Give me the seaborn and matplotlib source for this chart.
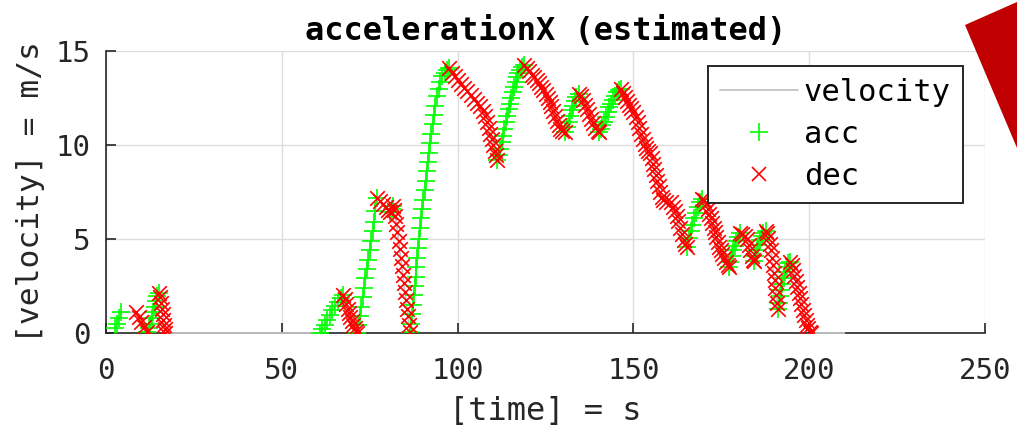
import numpy as np
import pandas as pd
import matplotlib
matplotlib.use("Agg")
import matplotlib.pyplot as plt
from matplotlib.lines import Line2D
from matplotlib.patches import Polygon
import seaborn as sns

# ---------------- data ----------------
time_s = [
    2.6, 3.1, 3.7, 4.4, 8.6, 9.3, 10.0, 10.8, 11.6,
    12.1, 12.6, 13.0, 13.4, 13.8, 14.2, 14.6, 15.0,
    15.4, 15.7, 15.9, 16.1, 16.3, 16.5, 16.7, 16.9,
    61.0, 61.5, 62.2, 62.9, 63.6, 64.4, 65.2, 66.0, 66.8, 67.5,
    67.9, 68.3, 68.7, 69.1, 69.5, 69.9, 70.3, 70.7, 71.1, 71.5,
    71.8, 72.2, 72.6, 73.0, 73.4, 73.8, 74.2, 74.6, 75.0, 75.4, 75.8, 76.2, 76.6, 77.2,
    77.9, 78.7, 79.5, 80.3, 80.9, 81.3, 81.7,
    82.0, 82.3, 82.6, 82.9, 83.2, 83.5, 83.8, 84.1, 84.4, 84.7, 85.0, 85.3, 85.6, 85.9, 86.2, 86.5,
    86.8, 87.05, 87.3, 87.55, 87.8, 88.05, 88.3, 88.55, 88.8, 89.1, 89.4, 89.7, 90.0, 90.3,
    90.6, 90.9, 91.2, 91.5, 91.8, 92.15, 92.5, 92.9, 93.3, 93.7, 94.1, 94.6, 95.1, 95.7,
    96.3, 96.9, 97.5,
    98.3, 99.2, 100.1, 101.0, 101.9, 102.8, 103.7, 104.6, 105.5, 106.4, 107.2, 107.9,
    108.5, 108.9, 109.3, 109.7, 110.1, 110.5, 110.9, 111.3,
    111.7, 112.1, 112.5, 112.9, 113.3, 113.7, 114.1, 114.5, 114.9, 115.3, 115.7, 116.1,
    116.5, 116.9, 117.3, 117.8, 118.3, 118.9,
    119.7, 120.4, 121.1, 121.8, 122.5, 123.2, 123.8, 124.4, 125.0, 125.6, 126.2, 126.7,
    127.2, 127.7, 128.2, 128.7, 129.2, 129.8, 130.5,
    131.2, 131.6, 132.0, 132.4, 132.8, 133.3, 133.8, 134.4,
    135.0, 135.6, 136.2, 136.8, 137.4, 138.0, 138.6, 139.2, 139.8, 140.2,
    140.7, 141.2, 141.7, 142.2, 142.7, 143.2, 143.7, 144.2, 144.7, 145.2, 145.8, 146.4,
    147.0, 147.6, 148.2, 148.8, 149.4, 150.0, 150.6, 151.2, 151.7, 152.2, 152.7, 153.2,
    153.7, 154.2, 154.7, 155.2, 155.6, 156.0, 156.4, 156.8, 157.2, 157.6, 158.0, 158.5,
    159.2, 160.8, 161.3, 161.8, 162.3, 162.8, 163.3, 163.8, 164.3, 164.8, 165.3,
    165.8, 166.3, 166.8, 167.3, 167.8, 168.3, 168.9, 169.6,
    170.2, 170.7, 171.2, 171.6, 172.0, 172.4, 172.8, 173.2, 173.6, 174.0, 174.4, 174.8,
    175.3, 175.8, 176.3, 176.8, 177.2,
    177.6, 178.0, 178.4, 178.8, 179.2, 179.7, 180.3,
    181.0, 181.7, 182.3, 182.8, 183.2, 183.6, 184.0, 184.3,
    184.7, 185.1, 185.5, 186.0, 186.5, 187.0, 187.6,
    188.0, 188.4, 188.8, 189.1, 189.4, 189.65, 189.9, 190.15, 190.4, 190.65, 190.9, 191.2,
    191.5, 191.8, 192.1, 192.4, 192.8, 193.2, 193.6, 194.1, 194.6,
    195.0, 195.4, 195.8, 196.2, 196.6, 197.0, 197.4, 197.8, 198.2, 198.6, 199.0, 199.4,
    199.8, 200.2, 200.5, 210.0,
]
velocity_ms = [
    0.25, 0.5, 0.8, 1.1, 1.1, 0.85, 0.6, 0.3, 0.05,
    0.25, 0.5, 0.8, 1.1, 1.4, 1.7, 1.95, 2.15,
    1.9, 1.6, 1.3, 1.0, 0.7, 0.45, 0.2, 0.0,
    0.0, 0.2, 0.45, 0.7, 0.95, 1.2, 1.45, 1.65, 1.85, 2.0,
    1.8, 1.55, 1.3, 1.05, 0.85, 0.65, 0.45, 0.25, 0.1, 0.0,
    0.4, 0.9, 1.4, 1.9, 2.4, 2.9, 3.4, 3.9, 4.4, 4.9, 5.4, 5.9, 6.5, 7.2,
    7.0, 6.85, 6.7, 6.55, 6.45, 6.6, 6.75,
    6.55, 6.2, 5.8, 5.35, 4.9, 4.45, 4.0, 3.55, 3.1, 2.65, 2.2, 1.75, 1.3, 0.9, 0.45, 0.05,
    0.5, 1.0, 1.5, 2.0, 2.5, 3.0, 3.5, 4.0, 4.5, 5.0, 5.6, 6.1, 6.6, 7.1,
    7.6, 8.1, 8.6, 9.1, 9.6, 10.1, 10.6, 11.1, 11.6, 12.1, 12.6, 13.0, 13.35, 13.65,
    13.85, 14.0, 14.1,
    13.85, 13.65, 13.45, 13.25, 13.05, 12.85, 12.65, 12.45, 12.25, 12.05, 11.8, 11.55,
    11.2, 10.9, 10.6, 10.3, 10.0, 9.7, 9.45, 9.2,
    9.45, 9.8, 10.15, 10.5, 10.85, 11.2, 11.55, 11.9, 12.2, 12.5, 12.8, 13.1,
    13.35, 13.6, 13.85, 14.0, 14.15, 14.25,
    14.1, 13.95, 13.75, 13.6, 13.45, 13.3, 13.1, 12.9, 12.7, 12.5, 12.3, 12.05,
    11.8, 11.55, 11.3, 11.05, 10.85, 10.75, 10.7,
    10.95, 11.25, 11.55, 11.85, 12.1, 12.35, 12.55, 12.7,
    12.6, 12.4, 12.15, 11.9, 11.65, 11.4, 11.15, 10.9, 10.72, 10.7,
    10.85, 11.05, 11.25, 11.5, 11.75, 12.0, 12.2, 12.4, 12.6, 12.8, 12.95, 13.0,
    12.75, 12.55, 12.35, 12.15, 11.95, 11.75, 11.5, 11.2, 10.9, 10.6, 10.3, 10.05,
    9.85, 9.7, 9.55, 9.3, 9.0, 8.7, 8.4, 8.1, 7.8, 7.5, 7.25, 7.05,
    6.95, 6.95, 6.7, 6.5, 6.25, 5.95, 5.6, 5.25, 4.95, 4.75, 4.6,
    5.05, 5.4, 5.75, 6.1, 6.4, 6.7, 6.95, 7.15,
    7.05, 6.85, 6.6, 6.35, 6.1, 5.85, 5.6, 5.35, 5.1, 4.85, 4.6, 4.4,
    4.2, 4.0, 3.8, 3.6, 3.5,
    3.8, 4.1, 4.4, 4.65, 4.9, 5.1, 5.3,
    5.25, 5.15, 5.0, 4.7, 4.4, 4.1, 3.9, 3.85,
    4.1, 4.4, 4.7, 4.95, 5.15, 5.3, 5.45,
    5.3, 5.05, 4.75, 4.4, 4.0, 3.6, 3.2, 2.8, 2.4, 2.0, 1.6, 1.3,
    1.6, 1.95, 2.3, 2.6, 2.95, 3.25, 3.5, 3.7, 3.8,
    3.6, 3.35, 3.05, 2.75, 2.45, 2.15, 1.85, 1.55, 1.25, 0.95, 0.7, 0.45,
    0.25, 0.05, 0.0, 0.0,
]
x_ticks = [0, 50, 100, 150, 200, 250]
y_ticks = [0, 5, 10, 15]
legend_labels = ["velocity", "acc", "dec"]
title_text = "accelerationX (estimated)"
x_label = "[time] = s"
y_label = "[velocity] = m/s"

# ---------------- derive acc / dec phases ----------------
t = np.asarray(time_s, dtype=float)
v = np.asarray(velocity_ms, dtype=float)
d = np.diff(v)
rise_prev = np.r_[False, d > 0]
rise_next = np.r_[d > 0, False]
fall_prev = np.r_[False, d < 0]
fall_next = np.r_[d < 0, False]
acc_mask = rise_prev | rise_next
dec_mask = fall_prev | fall_next

df = pd.DataFrame({"time": t, "velocity": v})
acc = df[acc_mask]
dec = df[dec_mask]

# ---------------- style ----------------
sns.set_style("white")
plt.rcParams["font.family"] = ["DejaVu Sans Mono", "DejaVu Sans"]

fig = plt.figure(figsize=(10.17, 4.25), dpi=100)
ax = fig.add_axes([106 / 1017, 1 - 333 / 425, (985 - 106) / 1017, (333 - 51) / 425])

GRAY = "#c4c4c4"
GREEN = "#00ff00"
RED = "#ff0000"

sns.lineplot(data=df, x="time", y="velocity", ax=ax, color=GRAY, linewidth=1.3,
             sort=False, estimator=None, zorder=3, legend=False)
sns.scatterplot(data=acc, x="time", y="velocity", ax=ax, marker="+", color=GREEN,
                s=160, linewidth=1.2, zorder=4, legend=False)
sns.scatterplot(data=dec, x="time", y="velocity", ax=ax, marker="x", color=RED,
                s=110, linewidth=1.2, zorder=5, legend=False)
for ln in ax.lines:
    ln.set_clip_on(False)

ax.set_xlim(0, 250)
ax.set_ylim(0, 15)
ax.set_xticks(x_ticks)
ax.set_yticks(y_ticks)
ax.grid(True, color="#dedede", linewidth=1.0)
ax.set_axisbelow(True)
for side in ["top", "right"]:
    ax.spines[side].set_visible(False)
for side in ["left", "bottom"]:
    ax.spines[side].set_color("#262626")
    ax.spines[side].set_linewidth(1.2)
    ax.spines[side].set_zorder(2.6)
ax.tick_params(axis="both", direction="in", length=7, width=1.2, color="#262626",
               labelsize=21, labelcolor="#262626",
               bottom=True, left=True, top=False, right=False)
ax.tick_params(axis="x", pad=17)
ax.tick_params(axis="y", pad=11)

ax.set_title(title_text, fontsize=23, fontweight="bold", color="black", pad=8)
ax.set_xlabel(x_label, fontsize=23, color="#262626", labelpad=8)
ax.set_ylabel(y_label, fontsize=22.5, color="#262626", labelpad=8)

handles = [
    Line2D([], [], color=GRAY, linewidth=1.3),
    Line2D([], [], color=GREEN, marker="+", linestyle="", markersize=13, markeredgewidth=1.2),
    Line2D([], [], color=RED, marker="x", linestyle="", markersize=10, markeredgewidth=1.2),
]
leg = ax.legend(handles, legend_labels, loc="upper right", bbox_to_anchor=(0.975, 0.948),
                fontsize=22, frameon=True, fancybox=False, framealpha=1,
                edgecolor="#262626", handlelength=2.55, handletextpad=0.2,
                borderpad=0.4, labelspacing=0.42, numpoints=1, borderaxespad=0)
leg.get_frame().set_linewidth(1.4)
for txt in leg.get_texts():
    txt.set_color("black")

# decorative red wedge at the figure's top-right corner
fig.patches.append(Polygon([[965 / 1017, 1 - 25 / 425], [1.0, 1 - 2 / 425], [1.0, 1 - 148 / 425]],
                           closed=True, transform=fig.transFigure, facecolor="#c00000",
                           edgecolor="none", figure=fig))

fig.savefig("out.png", dpi=100)
